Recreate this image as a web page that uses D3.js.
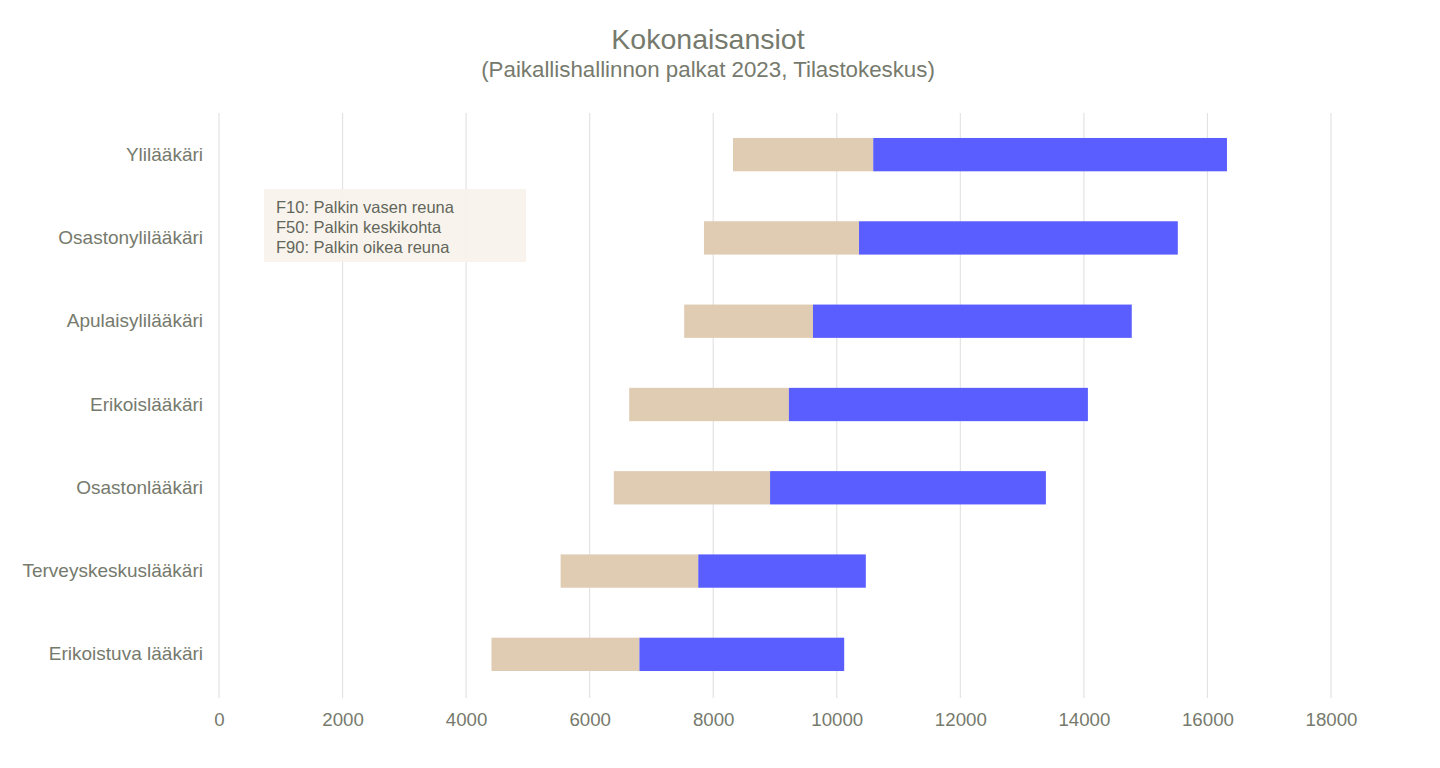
<!DOCTYPE html>
<html><head><meta charset="utf-8">
<script src="https://cdn.jsdelivr.net/npm/d3@7"></script>
<style>body{margin:0;background:#fff;}svg{display:block;font-family:"Liberation Sans",Arial,sans-serif;}</style>
</head><body>
<svg id="c" width="1440" height="768"></svg>
<script>
const categories = ["Ylilääkäri","Osastonylilääkäri","Apulaisylilääkäri","Erikoislääkäri","Osastonlääkäri","Terveyskeskuslääkäri","Erikoistuva lääkäri"];
const f10 = [8320, 7850, 7530, 6640, 6390, 5530, 4410];
const f50 = [10590, 10360, 9615, 9225, 8920, 7758, 6805];
const f90 = [16316, 15520, 14775, 14065, 13385, 10470, 10120];
const ticks = [0,2000,4000,6000,8000,10000,12000,14000,16000,18000];
const legendLines = ["F10: Palkin vasen reuna","F50: Palkin keskikohta","F90: Palkin oikea reuna"];

const svg = d3.select("#c");
const textCol = "#767a6d";
const x = d3.scaleLinear().domain([0,18000]).range([219,1331]);
const y = d3.scaleBand().domain(categories).range([113,696]).paddingInner(0.6).paddingOuter(0.3);

// gridlines
svg.append("g").selectAll("line").data(ticks).join("line")
  .attr("x1",d=>x(d)).attr("x2",d=>x(d)).attr("y1",113).attr("y2",698)
  .attr("stroke","#e3e3e3").attr("stroke-width",1.2);

// x axis
const xa = svg.append("g").attr("transform","translate(0,698)")
  .call(d3.axisBottom(x).tickValues(ticks).tickFormat(d3.format("d")).tickSize(0).tickPadding(15));
xa.select(".domain").remove();
xa.selectAll("text").attr("fill",textCol).style("font-size","18.7px").style("font-family","Liberation Sans, Arial, sans-serif");

// y axis
const ya = svg.append("g").attr("transform","translate(219,0)")
  .call(d3.axisLeft(y).tickSize(0).tickPadding(16));
ya.select(".domain").remove();
ya.selectAll("text").attr("fill",textCol).style("font-size","19px").style("font-family","Liberation Sans, Arial, sans-serif");

const rows = categories.map((c,i)=>({c, a:f10[i], m:f50[i], b:f90[i]}));
svg.append("g").selectAll("rect").data(rows).join("rect")
  .attr("x",d=>x(d.a)).attr("width",d=>x(d.m)-x(d.a))
  .attr("y",d=>y(d.c)).attr("height",y.bandwidth()).attr("fill","#e0ccb2");
svg.append("g").selectAll("rect").data(rows).join("rect")
  .attr("x",d=>x(d.m)).attr("width",d=>x(d.b)-x(d.m))
  .attr("y",d=>y(d.c)).attr("height",y.bandwidth()).attr("fill","#5a5eff");

// legend box
svg.append("rect").attr("x",264).attr("y",189).attr("width",262).attr("height",73)
  .attr("fill","#f7f3ec").attr("fill-opacity",0.93);
svg.append("g").selectAll("text").data(legendLines).join("text")
  .attr("x",276).attr("y",(d,i)=>212.5+i*20).text(d=>d)
  .attr("fill","#63665b").style("font-size","16.5px");

// titles
svg.append("text").attr("x",708).attr("y",49).attr("text-anchor","middle")
  .attr("fill",textCol).style("font-size","28.5px").text("Kokonaisansiot");
svg.append("text").attr("x",708).attr("y",77).attr("text-anchor","middle")
  .attr("fill",textCol).style("font-size","22.3px").text("(Paikallishallinnon palkat 2023, Tilastokeskus)");
</script>
</body></html>
